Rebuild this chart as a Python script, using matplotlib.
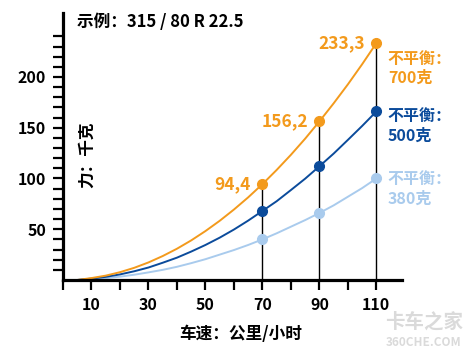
import matplotlib.pyplot as plt
import warnings

warnings.filterwarnings("ignore")

plt.rcParams['font.family'] = ['Noto Sans CJK SC', 'DejaVu Sans']

# speeds (km/h) and force (kg)
speed = [5, 10, 15, 20, 25, 30, 35, 40, 45, 50, 55, 60, 65, 70, 75, 80, 85,
         90, 95, 100, 105, 110]
f700 = [0, 1.9, 4.3, 7.7, 12, 17.3, 23.6, 30.8, 39, 48.2, 58.3, 69.4, 81.4,
        94.4, 108.4, 123.3, 139.2, 156.2, 174, 192.7, 212.5, 233.3]
f500 = [0, 1.4, 3.1, 5.5, 8.6, 12.3, 17, 22, 28, 34.5, 41.7, 49.7, 58.5,
        68, 77.6, 88.6, 99.8, 112, 124.5, 138, 151.7, 166]
f380 = [0, 0.8, 1.8, 3.3, 5.2, 7.5, 10, 13, 16.6, 20.5, 25, 29.5, 34.5,
        40, 46, 52.5, 59, 66, 73.5, 82, 90.5, 100]

mark_speed = [70, 90, 110]
mark700 = [94.4, 156.2, 233.3]
mark500 = [68, 112, 166]
mark380 = [40, 66, 100]
value_labels = ["94,4", "156,2", "233,3"]

orange = "#f39a1c"
blue = "#0b4b9b"
light = "#a9cbed"

fig = plt.figure(figsize=(4.73, 3.53), dpi=100)
ax = fig.add_axes([63 / 473, 73 / 353, 339 / 473, 267 / 353])

# vertical guide lines
for x, top in zip(mark_speed, mark700):
    ax.plot([x, x], [0, top], color="black", lw=1.0, zorder=1)

ax.plot(speed, f380, color=light, lw=1.4, zorder=2)
ax.plot(speed, f500, color=blue, lw=1.4, zorder=2)
ax.plot(speed, f700, color=orange, lw=1.4, zorder=2)
ax.plot(mark_speed, mark380, "o", color=light, ms=7, zorder=3)
ax.plot(mark_speed, mark500, "o", color=blue, ms=7, zorder=3)
ax.plot(mark_speed, mark700, "o", color=orange, ms=7, zorder=3)

for x, y, s in zip(mark_speed, mark700, value_labels):
    ax.text(x - 4, y, s, color=orange, fontsize=12.5, fontweight="bold",
            ha="right", va="center")

ax.text(114, 226, "不平衡：\n700克", color=orange, fontsize=11.5,
        fontweight="bold", va="top", linespacing=1.25)
ax.text(114, 169, "不平衡：\n500克", color=blue, fontsize=11.5,
        fontweight="bold", va="top", linespacing=1.25)
ax.text(114, 107, "不平衡：\n380克", color=light, fontsize=11.5,
        fontweight="bold", va="top", linespacing=1.25)

ax.text(5, 254, "示例：315 / 80 R 22.5", fontsize=12, fontweight="bold",
        va="center", ha="left")
ax.text(8.3, 123, "力：千克", fontsize=12, fontweight="bold", rotation=90,
        ha="center", va="center")

ax.set_xlim(0, 119)
ax.set_ylim(0, 263)
ax.set_xticks([10, 30, 50, 70, 90, 110])
ax.set_xticks([0, 20, 40, 60, 80, 100], minor=True)
ax.set_yticks([50, 100, 150, 200])
ax.set_yticks([v for v in range(10, 250, 10) if v % 50 != 0], minor=True)
for s in ["top", "right"]:
    ax.spines[s].set_visible(False)
for s in ["left", "bottom"]:
    ax.spines[s].set_linewidth(2.3)
ax.tick_params(which="both", direction="out", length=7, width=1.6)
ax.tick_params(axis="both", labelsize=11.5, pad=5)
for lab in ax.get_xticklabels() + ax.get_yticklabels():
    lab.set_fontweight("bold")

fig.text(241 / 473, 1 - 334 / 353, "车速：公里/小时", fontsize=12,
         fontweight="bold", ha="center", va="center")

# watermark
fig.text(424 / 473, 1 - 322 / 353, "卡车之家", fontsize=14, color="#dadada",
         fontweight="bold", ha="center", va="center")
fig.text(424 / 473, 1 - 342 / 353, "360CHE.COM", fontsize=8.5, color="#dadada",
         fontweight="bold", ha="center", va="center")

plt.savefig("out.png", dpi=100)
